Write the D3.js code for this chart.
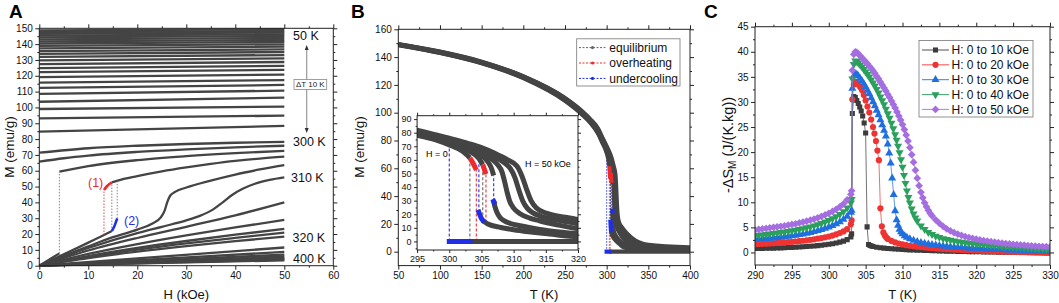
<!DOCTYPE html>
<html>
<head>
<meta charset="utf-8">
<script src="https://cdn.jsdelivr.net/npm/d3@7"></script>
<style>
  body { margin: 0; background: #fff; }
  text { font-family: Arial, "Liberation Sans", sans-serif; }
</style>
</head>
<body>
<svg id="fig" width="1059" height="303"></svg>
<script>
// ---------- Panel A data : isotherms M(H) ----------
// 50 K .. 290 K, step 10 K : M at H = 0 and at H = 50 kOe
const tempsA = [50,60,70,80,90,100,110,120,130,140,150,160,170,180,190,200,210,220,230,240,250,260,270,280,290];
const mA0  = [148.6,147.5,146.5,145.4,144.3,143.0,141.7,140.4,138.9,137.3,135.6,133.8,131.9,129.7,127.4,124.9,122.3,119.2,115.7,112.4,108.6,103.6,99.0,93.1,84.7];
const mA50 = [149.4,148.3,147.3,146.2,145.2,143.9,142.6,141.4,139.9,138.4,136.7,135.0,133.1,131.0,128.7,126.2,123.7,120.7,117.3,114.2,110.6,106.2,100.5,94.8,88.3];
// near the transition
const iso300 = [[0,71.4],[10,74.2],[20,75.8],[30,76.9],[40,77.7],[50,78.3]];
const iso302 = [[0,65.7],[5,67.9],[10,69.6],[20,71.9],[30,73.5],[40,74.8],[50,75.8]];
const iso304lo = [[0,0],[4.1,7.8]];
const iso304hi = [[4.1,59.4],[10,62.9],[20,66.7],[30,69.2],[40,71.1],[50,72.6]];
const iso306lo = [[0,0],[4,5.8],[8,11.6],[11,16.1],[13.2,19.4],[14.8,21.9]];
const iso306und = [[14.8,21.9],[15.3,24.8],[15.9,29.9]];
const iso306ovh = [[13.2,47.8],[13.8,50.2],[14.8,52.6]];
const iso306hi = [[14.8,52.6],[16,53.8],[20,56.6],[25,59.6],[30,62.1],[35,64.3],[40,66.2],[45,67.7],[50,68.9]];
const iso308 = [[0,0],[5,6.2],[10,12.2],[15,18.0],[20,22.8],[23,26.5],[24.8,30.5],[25.6,35],[26.1,40],[26.7,44.2],[27.8,46.8],[30,49.4],[35,53.8],[40,57.6],[45,60.8],[50,63.6]];
const iso310 = [[0,0],[10,11.2],[20,20.6],[25,24.6],[30,28.6],[33,31.8],[35.5,35.6],[37.5,40.2],[39.5,45],[41.5,48.6],[44,51.8],[47,54.2],[50,55.8]];
const iso312 = [[0,0],[10,9.6],[20,17.5],[30,24.6],[40,31.8],[50,40.0]];
const iso314 = [[0,0],[10,7.4],[20,13.6],[30,19.1],[40,24.2],[50,28.9]];
const iso316 = [[0,0],[10,6.1],[20,11.2],[30,15.6],[40,19.6],[50,23.2]];
const iso318 = [[0,0],[10,5.5],[20,10.1],[30,14.1],[40,17.6],[50,20.9]];
const iso320 = [[0,0],[10,4.8],[20,8.9],[30,12.4],[40,15.5],[50,18.4]];
const tempsHigh = [330,340,350,360,370,380,390,400];
const mHigh50 = [11.5,8.7,7.0,5.8,5.0,4.3,3.8,3.4];
// dotted jump lines in A : [H, M from, M to, colour]
const jumpsA = [[4.1,7.8,59.4,"#777"],[13.2,19.4,47.8,"#e83030"],[14.8,21.9,52.6,"#777"],[15.9,29.9,53.5,"#777"]];

// ---------- Panel B data : M(T) at H = 0..50 kOe ----------
const bUp0  = [[50,148.6],[100,143.0],[150,135.6],[200,124.9],[250,108.6],[270,99.0],[280,93.1],[290,84.7],[295,78.2],[298,74.5],[300,71.0],[302,66.5],[303.2,61.5]];
const bUp10 = [[50,148.8],[100,143.2],[150,135.8],[200,125.2],[250,109.1],[270,99.6],[280,93.8],[290,85.5],[295,79.0],[300,72.3],[303,66.8],[304.6,61.0],[305.2,56.5]];
const bUp20 = [[50,149.0],[100,143.4],[150,136.1],[200,125.5],[250,109.6],[270,100.1],[280,94.3],[290,86.3],[295,79.8],[300,73.4],[303,68.3],[305,63.3],[306,58.5],[306.5,54.5],[306.9,48.5]];
const bAll30 = [[50,149.1],[100,143.6],[150,136.3],[200,125.8],[250,110.0],[270,100.6],[280,94.8],[290,87.0],[295,80.5],[300,74.3],[303,69.6],[305,65.5],[306.5,61.0],[307.5,56.5],[308.2,51],[308.6,44],[309,36],[309.4,29.5],[310,24.5],[311,20.4],[312.5,17.2],[314,15.2],[317,12.0],[320,9.3],[330,5.0],[350,2.3],[400,1.1]];
const bAll40 = [[50,149.2],[100,143.8],[150,136.5],[200,126.0],[250,110.3],[270,101.0],[280,95.2],[290,87.6],[295,81.2],[300,75.1],[303,70.8],[305,67.3],[307,62.5],[308.5,58.0],[309.5,53.5],[310.2,47],[310.8,38],[311.4,30],[312.1,24.5],[313,21],[314.1,18.7],[317,15.5],[320,13.0],[330,7.5],[350,3.5],[400,1.8]];
const bAll50 = [[50,149.4],[100,143.9],[150,136.7],[200,126.2],[250,110.6],[270,101.4],[280,95.6],[290,88.3],[295,81.9],[300,75.9],[303,72.0],[305,69.0],[307,65.0],[309,60.2],[310.5,55.5],[311.3,48],[312,38.5],[312.7,30],[313.5,24.8],[315.2,20.6],[318,17.8],[320,16.2],[330,10.0],[350,5.0],[400,3.2]];
const bLo0  = [[303.2,0],[320,0],[400,0]];
const bLo10 = [[305.2,15.5],[306,12.8],[308,10.3],[310,8.6],[313,6.8],[316,5.2],[320,3.4],[330,2.0],[350,1.0],[400,0.5]];
const bLo20 = [[306.9,29.5],[307.1,25.5],[307.4,21.5],[307.9,17.5],[308.5,15.3],[309.5,13.2],[311,11.5],[313,9.8],[316,7.6],[320,5.7],[330,3.2],[350,1.5],[400,0.7]];
const bOvh0  = [[303.2,61.5],[303.7,57.5],[304.2,52.5]];
const bOvh10 = [[305.2,56.5],[305.45,53],[305.7,49.5]];
const bUnd0  = [[300,0],[303.2,0]];
const bUnd10 = [[304.6,21.5],[304.9,17.8],[305.2,15.5]];
const bUnd20 = [[306.9,29.5],[306.95,29.0]];
// dashed jump lines in B : [T, M from, M to, kind]
const jumpsB = [[300,0,71.0,"und"],[303.2,0,61.5,"eq"],[304.2,0,52.5,"ovh"],
                [304.6,21.5,61.0,"und"],[305.2,15.5,56.5,"eq"],[305.7,13.9,49.5,"ovh"],
                [306.9,29.5,48.5,"und"]];
const legendB = ["equilibrium","overheating","undercooling"];

// ---------- Panel C data : -dS_M(T) ----------
const legendC = ["H: 0 to 10 kOe","H: 0 to 20 kOe","H: 0 to 30 kOe","H: 0 to 40 kOe","H: 0 to 50 kOe"];
const dS10 = [[290,.80],[290.5,.81],[291,.82],[291.5,.84],[292,.85],[292.5,.87],[293,.89],[293.5,.92],[294,.95],[294.5,.98],[295,1.01],[295.5,1.05],[296,1.09],[296.5,1.13],[297,1.18],[297.5,1.23],[298,1.29],[298.5,1.36],[299,1.44],[299.5,1.53],[300,1.63],[300.5,1.75],[301,1.89],[301.5,2.05],[302,2.25],[302.5,2.55],[303,3.1],[303.1,3.7],
  [303.2,27.7],[303.4,31.1],[303.6,30.9],[303.8,30.3],[304,29.7],[304.2,29.0],[304.4,28.2],[304.6,27.2],[304.8,25.8],[305,23.8],[305.2,5.1],[305.4,1.6],[305.6,1.4],[305.8,1.3],[306,1.2],[306.5,1.05],[307,.95],[307.5,.87],[308,.8],[308.5,.74],[309,.69],[309.5,.64],[310,.6],
  [310.5,.56],[311,.52],[311.5,.49],[312,.46],[312.5,.43],[313,.4],[313.5,.38],[314,.35],[314.5,.33],[315,.31],[315.5,.29],[316,.27],[316.5,.25],[317,.23],[317.5,.21],[318,.2],[318.5,.18],[319,.17],[319.5,.15],[320,.14],[320.5,.13],[321,.12],[321.5,.1],[322,.09],[322.5,.08],[323,.07],[323.5,.06],[324,.05],[324.5,.04],[325,.03],[325.5,.02],[326,.01],[326.5,0],[327,-.01],[327.5,-.02],[328,-.03],[328.5,-.04],[329,-.05],[329.5,-.06],[330,-.07]];
const dS20 = [[290,1.65],[290.5,1.68],[291,1.72],[291.5,1.76],[292,1.80],[292.5,1.85],[293,1.90],[293.5,1.95],[294,2.00],[294.5,2.06],[295,2.12],[295.5,2.19],[296,2.26],[296.5,2.34],[297,2.42],[297.5,2.52],[298,2.62],[298.5,2.74],[299,2.87],[299.5,3.01],[300,3.17],[300.5,3.36],[301,3.60],[301.5,3.88],[302,4.20],[302.5,4.65],[303,5.6],[303.1,6.4],
  [303.2,30.5],[303.4,33.5],[303.6,34.0],[303.8,33.8],[304,33.5],[304.25,33.0],[304.5,32.4],[304.75,31.4],[305,30.3],[305.25,29.1],[305.5,27.9],[305.75,26.5],[306,25.0],[306.2,23.7],[306.4,22.2],[306.6,20.3],[306.8,18.4],[307,8.8],[307.2,5.2],[307.4,4.0],[307.6,3.4],[307.8,3.0],[308,2.7],[308.5,2.3],[309,2.0],[309.5,1.78],[310,1.6],
  [310.5,1.46],[311,1.34],[311.5,1.24],[312,1.15],[312.5,1.07],[313,1.0],[313.5,.93],[314,.87],[314.5,.81],[315,.76],[315.5,.71],[316,.66],[316.5,.62],[317,.58],[317.5,.54],[318,.5],[318.5,.46],[319,.43],[319.5,.4],[320,.37],[320.5,.34],[321,.31],[321.5,.28],[322,.25],[322.5,.22],[323,.2],[323.5,.17],[324,.15],[324.5,.12],[325,.1],[325.5,.08],[326,.06],[326.5,.04],[327,.02],[327.5,0],[328,-.02],[328.5,-.04],[329,-.06],[329.5,-.08],[330,-.1]];
const dS30 = [[290,2.6],[290.5,2.65],[291,2.7],[291.5,2.75],[292,2.8],[292.5,2.87],[293,2.94],[293.5,3.02],[294,3.1],[294.5,3.2],[295,3.3],[295.5,3.4],[296,3.52],[296.5,3.65],[297,3.8],[297.5,3.95],[298,4.12],[298.5,4.32],[299,4.55],[299.5,4.8],[300,5.05],[300.5,5.35],[301,5.7],[301.5,6.1],[302,6.6],[302.5,7.2],[303,8.0],[303.1,8.4],
  [303.2,32.7],[303.4,35.2],[303.6,35.6],[303.8,35.5],[304,35.2],[304.25,34.7],[304.5,34.2],[304.75,33.6],[305,33.0],[305.25,32.3],[305.5,31.6],[305.75,30.8],[306,30.0],[306.25,29.2],[306.5,28.3],[306.75,27.4],[307,26.4],[307.25,25.4],[307.5,24.3],[307.75,23.2],[308,21.6],[308.2,19.8],[308.4,17.8],[308.6,14.8],[308.8,11.5],[309,8.3],[309.2,6.5],[309.4,5.4],[309.6,4.6],[309.8,4.1],[310,3.7],[310.3,3.3],[310.6,3.0],[311,2.7],[311.5,2.4],[312,2.15],[312.5,1.95],[313,1.8],[313.5,1.65],[314,1.55],
  [314.5,1.45],[315,1.35],[315.5,1.27],[316,1.2],[316.5,1.13],[317,1.07],[317.5,1.01],[318,.96],[318.5,.91],[319,.86],[319.5,.82],[320,.78],[320.5,.74],[321,.7],[321.5,.66],[322,.63],[322.5,.6],[323,.56],[323.5,.53],[324,.5],[324.5,.47],[325,.44],[325.5,.41],[326,.38],[326.5,.35],[327,.32],[327.5,.29],[328,.26],[328.5,.23],[329,.2],[329.5,.17],[330,.14]];
const dS40 = [[290,3.4],[290.5,3.47],[291,3.54],[291.5,3.62],[292,3.7],[292.5,3.8],[293,3.9],[293.5,4.0],[294,4.1],[294.5,4.22],[295,4.35],[295.5,4.48],[296,4.62],[296.5,4.78],[297,4.95],[297.5,5.13],[298,5.33],[298.5,5.56],[299,5.82],[299.5,6.1],[300,6.4],[300.5,6.75],[301,7.15],[301.5,7.6],[302,8.15],[302.5,8.9],[303,9.9],[303.1,10.6],
  [303.2,34.6],[303.4,37.5],[303.6,38.2],[303.8,38.1],[304,37.8],[304.25,37.4],[304.5,37.0],[304.75,36.5],[305,36.0],[305.25,35.5],[305.5,35.0],[305.75,34.4],[306,33.8],[306.25,33.2],[306.5,32.5],[306.75,31.8],[307,31.0],[307.25,30.3],[307.5,29.5],[307.75,28.6],[308,27.7],[308.25,26.8],[308.5,25.8],[308.75,24.7],[309,23.5],[309.2,22.4],[309.4,21.2],[309.6,19.9],[309.8,18.5],[310,17.0],[310.2,15.4],[310.4,13.8],[310.6,12.3],[310.8,11.0],[311,9.9],[311.25,8.7],[311.5,7.7],[311.75,6.9],[312,6.3],[312.5,5.3],[313,4.6],[313.5,4.0],[314,3.6],
  [314.5,3.25],[315,3.0],[315.5,2.78],[316,2.6],[316.5,2.45],[317,2.31],[317.5,2.19],[318,2.08],[318.5,1.98],[319,1.88],[319.5,1.79],[320,1.71],[320.5,1.63],[321,1.56],[321.5,1.49],[322,1.42],[322.5,1.36],[323,1.3],[323.5,1.24],[324,1.18],[324.5,1.13],[325,1.08],[325.5,1.03],[326,.98],[326.5,.93],[327,.88],[327.5,.83],[328,.78],[328.5,.73],[329,.68],[329.5,.63],[330,.58]];
const dS50 = [[290,4.5],[290.5,4.6],[291,4.7],[291.5,4.8],[292,4.9],[292.5,5.0],[293,5.1],[293.5,5.2],[294,5.32],[294.5,5.45],[295,5.58],[295.5,5.72],[296,5.88],[296.5,6.05],[297,6.23],[297.5,6.43],[298,6.65],[298.5,6.9],[299,7.17],[299.5,7.47],[300,7.8],[300.5,8.18],[301,8.6],[301.5,9.1],[302,9.7],[302.5,10.5],[303,11.6],[303.1,12.3],
  [303.2,36.3],[303.4,39.5],[303.6,40.0],[303.8,39.9],[304,39.6],[304.25,39.2],[304.5,38.8],[304.75,38.4],[305,38.0],[305.25,37.6],[305.5,37.1],[305.75,36.7],[306,36.2],[306.25,35.7],[306.5,35.1],[306.75,34.6],[307,34.0],[307.25,33.4],[307.5,32.8],[307.75,32.2],[308,31.5],[308.25,30.9],[308.5,30.2],[308.75,29.5],[309,28.8],[309.25,28.0],[309.5,27.2],[309.75,26.4],[310,25.5],[310.25,24.5],[310.5,23.4],[310.75,22.2],[311,20.9],[311.25,19.5],[311.5,18.0],[311.75,16.4],[312,14.8],[312.25,13.3],[312.5,12.0],[312.75,10.9],[313,9.9],[313.25,9.1],[313.5,8.4],[313.75,7.8],[314,7.3],[314.5,6.5],[315,5.8],[315.5,5.2],[316,4.7],[316.5,4.3],[317,3.95],[317.5,3.65],[318,3.4],
  [318.5,3.18],[319,2.98],[319.5,2.8],[320,2.64],[320.5,2.5],[321,2.37],[321.5,2.25],[322,2.14],[322.5,2.04],[323,1.95],[323.5,1.86],[324,1.78],[324.5,1.7],[325,1.63],[325.5,1.56],[326,1.5],[326.5,1.44],[327,1.38],[327.5,1.33],[328,1.28],[328.5,1.23],[329,1.18],[329.5,1.14],[330,1.1]];

// ---------- drawing ----------
const svg = d3.select("#fig");
const ink = "#222";
const grey = "#444";
const cRed = "#f02a2a", cBlue = "#1f2fe8", cEq = "#666";
const seriesC = [dS10, dS20, dS30, dS40, dS50];
const colC = ["#3c3c3c", "#ee3333", "#1f6fe0", "#2b9f5c", "#a56ee0"];

function ax(g, gen, tr, vals, size, labels, fs) {
  const a = g.append("g").attr("transform", tr)
    .call(gen.tickValues(vals).tickSize(size).tickSizeOuter(0).tickPadding(2.5).tickFormat(labels ? d => d : ""));
  a.select(".domain").remove();
  a.attr("font-family", null).attr("font-size", null);
  a.selectAll("line").attr("stroke", ink);
  a.selectAll("text").attr("font-size", fs).attr("fill", "#111");
  return a;
}

function frame(g, x, y, o) {
  const [x0, x1] = x.range(), [yb, yt] = y.range();
  const fs = o.fs || 10, big = o.big || 4, small = o.small || 2;
  ax(g, d3.axisBottom(x), `translate(0,${yb})`, o.xt, big, true, fs);
  ax(g, d3.axisBottom(x), `translate(0,${yb})`, o.xm, small, false, fs);
  ax(g, d3.axisTop(x), `translate(0,${yt})`, o.xt, big, false, fs);
  ax(g, d3.axisTop(x), `translate(0,${yt})`, o.xm, small, false, fs);
  ax(g, d3.axisLeft(y), `translate(${x0},0)`, o.yt, big, true, fs);
  ax(g, d3.axisLeft(y), `translate(${x0},0)`, o.ym, small, false, fs);
  ax(g, d3.axisRight(y), `translate(${x1},0)`, o.yt, big, false, fs);
  ax(g, d3.axisRight(y), `translate(${x1},0)`, o.ym, small, false, fs);
  g.append("rect").attr("x", x0).attr("y", yt).attr("width", x1 - x0).attr("height", yb - yt)
    .attr("fill", "none").attr("stroke", ink).attr("stroke-width", 1);
}

function title(t, x, y, rot, fs) {
  const el = svg.append("text").attr("font-size", fs || 13).attr("fill", "#111").attr("text-anchor", "middle");
  if (rot) el.attr("transform", `translate(${x},${y}) rotate(-90)`); else el.attr("x", x).attr("y", y);
  return el.text(t);
}

function clip(id, x, y) {
  svg.append("clipPath").attr("id", id).append("rect")
    .attr("x", x.range()[0]).attr("y", y.range()[1])
    .attr("width", x.range()[1] - x.range()[0]).attr("height", y.range()[0] - y.range()[1]);
}

// panel letters
[["A", 9], ["B", 351], ["C", 704]].forEach(([t, x]) =>
  svg.append("text").attr("x", x).attr("y", 18).attr("font-size", 19).attr("font-weight", "bold").text(t));

// ===== Panel A =====
const xA = d3.scaleLinear([0, 60], [39.3, 333.3]);
const yA = d3.scaleLinear([0, 150], [265.7, 28.3]);
const gA = svg.append("g");
const lineA = d3.line().x(d => xA(d[0])).y(d => yA(d[1])).curve(d3.curveMonotoneX);
const isoA = tempsA.map((t, i) => [[0, mA0[i]], [50, mA50[i]]])
  .concat([iso300, iso302, iso304lo, iso304hi, iso306lo, iso306hi, iso308, iso310,
           iso312, iso314, iso316, iso318, iso320])
  .concat(tempsHigh.map((t, i) => [[0, 0], [50, mHigh50[i]]]));
gA.selectAll("path.iso").data(isoA).join("path").attr("class", "iso")
  .attr("d", lineA).attr("fill", "none").attr("stroke", grey).attr("stroke-width", 2.3);
gA.selectAll("line.jump").data(jumpsA).join("line").attr("class", "jump")
  .attr("x1", d => xA(d[0])).attr("x2", d => xA(d[0])).attr("y1", d => yA(d[1])).attr("y2", d => yA(d[2]))
  .attr("stroke", d => d[3]).attr("stroke-width", 0.9).attr("stroke-dasharray", "1.5,1.5");
gA.append("path").attr("d", lineA(iso306ovh)).attr("fill", "none").attr("stroke", cRed).attr("stroke-width", 2.6);
gA.append("path").attr("d", lineA(iso306und)).attr("fill", "none").attr("stroke", cBlue).attr("stroke-width", 2.6);
frame(gA, xA, yA, {xt: d3.range(0, 61, 10), xm: d3.range(5, 60, 10), yt: d3.range(0, 151, 10), ym: d3.range(5, 150, 10), fs: 10});
[["50 K", 293, 39.5], ["300 K", 293, 145.7], ["310 K", 291, 182.3], ["320 K", 292.5, 241.7], ["400 K", 293, 263.3]]
  .forEach(([t, x, y]) => gA.append("text").attr("x", x).attr("y", y).attr("font-size", 12.5).attr("fill", "#111").text(t));
gA.append("line").attr("x1", 306.7).attr("x2", 306.7).attr("y1", 49).attr("y2", 129)
  .attr("stroke", "#999").attr("stroke-width", 1.2);
gA.append("path").attr("d", "M306.7,45 l-2,5 h4 z M306.7,133 l-2,-5 h4 z").attr("fill", "#333");
gA.append("rect").attr("x", 294).attr("y", 79.5).attr("width", 32.7).attr("height", 10).attr("fill", "#fff").attr("stroke", "#888").attr("stroke-width", 0.8);
gA.append("text").attr("x", 310.3).attr("y", 87.3).attr("font-size", 8).attr("text-anchor", "middle").attr("fill", "#222").text("ΔT 10 K");
gA.append("text").attr("x", 88).attr("y", 186.5).attr("font-size", 12.5).attr("fill", cRed).text("(1)");
gA.append("text").attr("x", 124).attr("y", 224.5).attr("font-size", 12.5).attr("fill", cBlue).text("(2)");
title("H (kOe)", 186.3, 298.5);
title("M (emu/g)", 14, 147, true, 13.5);

// ===== Panel B =====
const xB = d3.scaleLinear([50, 400], [398.3, 690]);
const yB = d3.scaleLinear([-10, 160], [265.6, 29.3]);
const xI = d3.scaleLinear([295, 320], [417.1, 578]);
const yI = d3.scaleLinear([-6.3, 92.5], [250, 115.7]);
const gB = svg.append("g");
clip("clipB", xB, yB);
clip("clipI", xI, yI);
const kindCol = {eq: cEq, ovh: cRed, und: cBlue};
const curvesB = [bUp0, bUp10, bUp20, bAll30, bAll40, bAll50, bLo0, bLo10, bLo20];
const ovhB = [bOvh0, bOvh10], undB = [bUnd0, bUnd10, bUnd20];

function drawB(g, x, y, cp, w, dash) {
  const ln = d3.line().x(d => x(d[0])).y(d => y(d[1])).curve(d3.curveMonotoneX);
  const c = g.append("g").attr("clip-path", `url(#${cp})`);
  c.selectAll("line.j").data(jumpsB).join("line").attr("class", "j")
    .attr("x1", d => x(d[0])).attr("x2", d => x(d[0])).attr("y1", d => y(d[1])).attr("y2", d => y(d[2]))
    .attr("stroke", d => kindCol[d[3]]).attr("stroke-width", dash ? 1.1 : 0.9).attr("stroke-dasharray", dash ? "3,2" : "1.5,1.5");
  c.selectAll("path.m").data(curvesB).join("path").attr("class", "m")
    .attr("d", ln).attr("fill", "none").attr("stroke", grey).attr("stroke-width", w);
  c.selectAll("path.o").data(ovhB).join("path").attr("class", "o")
    .attr("d", ln).attr("fill", "none").attr("stroke", cRed).attr("stroke-width", w);
  c.selectAll("path.u").data(undB).join("path").attr("class", "u")
    .attr("d", ln).attr("fill", "none").attr("stroke", cBlue).attr("stroke-width", w).attr("stroke-linecap", "square");
}
drawB(gB, xB, yB, "clipB", 4.2, false);
frame(gB, xB, yB, {xt: d3.range(50, 401, 50), xm: d3.range(75, 400, 50), yt: d3.range(0, 161, 20), ym: d3.range(-10, 160, 20).filter(v => v > -10), fs: 10});
// inset
const gI = svg.append("g");
gI.append("rect").attr("x", xI.range()[0]).attr("y", yI.range()[1]).attr("width", xI.range()[1] - xI.range()[0])
  .attr("height", yI.range()[0] - yI.range()[1]).attr("fill", "#fff");
drawB(gI, xI, yI, "clipI", 5, true);
frame(gI, xI, yI, {xt: d3.range(295, 321, 5), xm: d3.range(297.5, 320, 5), yt: d3.range(0, 91, 10), ym: d3.range(-5, 92, 10), fs: 9, big: 3, small: 1.5});
gI.append("text").attr("x", 426).attr("y", 157).attr("font-size", 9).text("H = 0");
gI.append("text").attr("x", 525).attr("y", 167).attr("font-size", 9).text("H = 50 kOe");
// legend B
const lgB = gB.append("g");
lgB.append("rect").attr("x", 576.7).attr("y", 38.8).attr("width", 103.3).attr("height", 47.2).attr("fill", "#fff").attr("stroke", "#777").attr("stroke-width", 0.8);
[cEq, cRed, cBlue].forEach((c, i) => {
  const yy = 47.6 + i * 15.4;
  lgB.append("line").attr("x1", 579).attr("x2", 606).attr("y1", yy).attr("y2", yy).attr("stroke", c).attr("stroke-width", 1).attr("stroke-dasharray", "2,1.5");
  lgB.append("circle").attr("cx", 592.5).attr("cy", yy).attr("r", 1.6).attr("fill", c);
  lgB.append("text").attr("x", 609.3).attr("y", yy + 4.2).attr("font-size", 12).attr("fill", "#111").text(legendB[i]);
});
title("T (K)", 544, 298.5);
title("M (emu/g)", 364, 147, true, 13.5);

// ===== Panel C =====
const xC = d3.scaleLinear([290, 330], [755, 1050]);
const yC = d3.scaleLinear([-2.5, 45], [265, 26.7]);
const gC = svg.append("g");
clip("clipC", xC, yC);
const sym = [d3.symbol(d3.symbolSquare, 26), d3.symbol(d3.symbolCircle, 30), d3.symbol(d3.symbolTriangle, 28),
             d3.symbol(d3.symbolTriangle, 28), d3.symbol(d3.symbolSquare, 30)];
const rot = [0, 0, 0, 180, 45];
const lineC = d3.line().x(d => xC(d[0])).y(d => yC(d[1]));
const cC = gC.append("g").attr("clip-path", "url(#clipC)");
seriesC.forEach((s, i) => {
  const g = cC.append("g");
  g.append("path").attr("d", lineC(s)).attr("fill", "none").attr("stroke", colC[i]).attr("stroke-width", 0.9).attr("stroke-opacity", 0.8);
  g.selectAll("path.pt").data(s).join("path").attr("class", "pt")
    .attr("transform", d => `translate(${xC(d[0])},${yC(d[1])}) rotate(${rot[i]})`)
    .attr("d", sym[i]()).attr("fill", colC[i]);
});
frame(gC, xC, yC, {xt: d3.range(290, 331, 5), xm: d3.range(292.5, 330, 5), yt: d3.range(0, 46, 5), ym: d3.range(-2.5, 45, 5).filter(v => v > -2.5), fs: 10});
const lgC = gC.append("g");
lgC.append("rect").attr("x", 919).attr("y", 40.5).attr("width", 114).attr("height", 76.5).attr("fill", "#fff").attr("stroke", "#777").attr("stroke-width", 0.8);
legendC.forEach((t, i) => {
  const yy = 50 + i * 14.85;
  lgC.append("line").attr("x1", 922).attr("x2", 949).attr("y1", yy).attr("y2", yy).attr("stroke", colC[i]).attr("stroke-width", 0.9);
  lgC.append("path").attr("transform", `translate(935.5,${yy}) rotate(${rot[i]})`).attr("d", sym[i]()).attr("fill", colC[i]);
  lgC.append("text").attr("x", 951.5).attr("y", yy + 4.2).attr("font-size", 12).attr("fill", "#111").text(t);
});
title("T (K)", 902.5, 298.5);
const yt = svg.append("text").attr("transform", "translate(733,145) rotate(-90)").attr("font-size", 14.5).attr("fill", "#111").attr("text-anchor", "middle");
yt.append("tspan").text("-ΔS");
yt.append("tspan").attr("font-size", 10).attr("dy", 3).text("M");
yt.append("tspan").attr("dy", -3).text(" (J/(K.kg))");
</script>
</body>
</html>
